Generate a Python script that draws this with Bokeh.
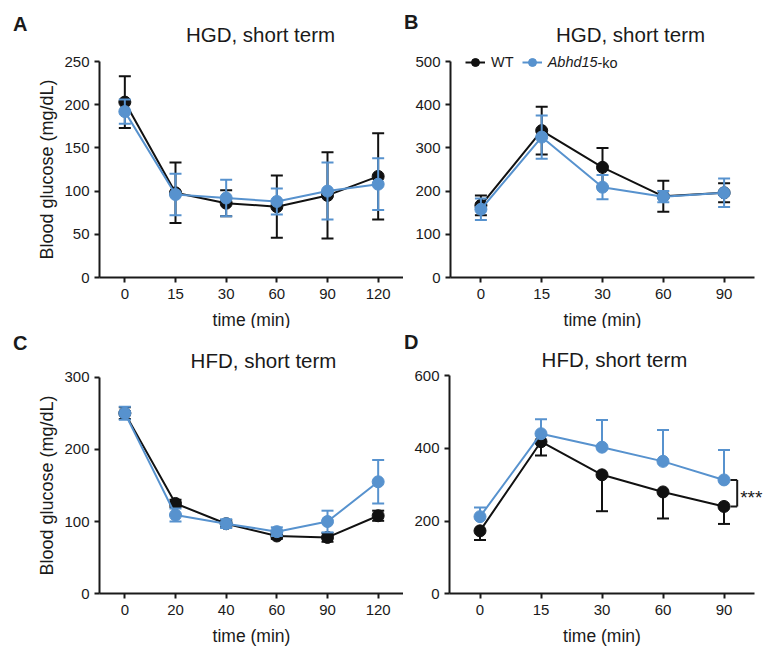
from bokeh.plotting import figure
from bokeh.models import Range1d, FixedTicker, Label, Legend, LegendItem
from bokeh.layouts import column, row
from bokeh.embed import file_html
from bokeh.resources import INLINE

# ---------------- data ----------------
# Panel A: HGD, short term
time_a = ["0", "15", "30", "60", "90", "120"]
wt_a = [203, 98, 86, 82, 95, 117]
wt_a_err = [30, 35, 15, 36, 50, 50]
ko_a = [192, 96, 92, 88, 100, 108]
ko_a_err = [14, 24, 21, 15, 33, 30]

# Panel B: HGD, short term
time_b = ["0", "15", "30", "60", "90"]
wt_b = [167, 340, 255, 188, 196]
wt_b_err = [23, 55, 45, 36, 22]
ko_b = [158, 325, 209, 187, 196]
ko_b_err = [25, 50, 28, 13, 33]

# Panel C: HFD, short term
time_c = ["0", "20", "40", "60", "90", "120"]
wt_c = [250, 125, 97, 80, 78, 108]
wt_c_err = [8, 5, 5, 4, 6, 7]
ko_c = [250, 109, 97, 86, 100, 155]
ko_c_err = [9, 9, 6, 6, 15, 30]

# Panel D: HFD, short term (WT: lower error bars, KO: upper error bars)
time_d = ["0", "15", "30", "60", "90"]
wt_d = [173, 418, 327, 280, 240]
wt_d_err = [25, 38, 100, 73, 48]
ko_d = [212, 440, 403, 364, 313]
ko_d_err = [25, 40, 75, 86, 82]

y_max = [250, 500, 300, 600]
y_step = [50, 100, 100, 200]
titles = ["HGD, short term", "HGD, short term", "HFD, short term", "HFD, short term"]
letters = ["A", "B", "C", "D"]
ylabel = "Blood glucose (mg/dL)"
xlabel = "time (min)"
legend_labels = ["WT", "Abhd15", "-ko"]
signif = "***"

BLACK = "#111111"
BLUE = "#5792CE"
TXT = "#1a1a1a"
FONT = "Liberation Sans"

# ---------------- layout geometry (page pixels) ----------------
# canvas: left, top, width, height ; axes: y-axis x, x-axis right end, top tick y, zero y
GEOM = {
    "A": dict(cl=0, ct=0, cw=403, ch=328, ax=99, xe=403, yt=61, yb=277),
    "B": dict(cl=403, ct=0, cw=361, ch=328, ax=450, xe=754, yt=61, yb=277),
    "C": dict(cl=0, ct=328, cw=403, ch=318, ax=99, xe=403, yt=376.5, yb=593.3),
    "D": dict(cl=403, ct=328, cw=361, ch=318, ax=449, xe=754, yt=375, yb=593.3),
}


def make_fig(key, times, ymax, ystep, show_ylabel):
    g = GEOM[key]
    n = len(times)
    s = (g["xe"] - g["ax"]) / n

    def u(px):
        return (px - g["ax"]) / s - 0.5

    def v(py):
        return (g["yb"] - py) / (g["yb"] - g["yt"]) * ymax

    p = figure(width=g["cw"], height=g["ch"],
               x_range=Range1d(u(g["cl"]), u(g["cl"] + g["cw"])),
               y_range=Range1d(v(g["ct"] + g["ch"]), v(g["ct"])),
               output_backend="svg", toolbar_location=None,
               min_border=0, min_border_left=0, min_border_right=0,
               min_border_top=0, min_border_bottom=0)
    p.outline_line_color = None
    p.xgrid.visible = False
    p.ygrid.visible = False
    p.background_fill_color = "white"
    p.border_fill_color = "white"

    xs = list(range(n))
    p.xaxis.ticker = FixedTicker(ticks=xs)
    p.xaxis.major_label_overrides = {i: t for i, t in zip(xs, times)}
    p.xaxis.fixed_location = 0
    p.xaxis.bounds = (-0.5, n - 0.5)
    p.yaxis.ticker = FixedTicker(ticks=list(range(0, ymax + 1, ystep)))
    p.yaxis.fixed_location = -0.5
    p.yaxis.bounds = (0, ymax)
    for ax in (p.xaxis[0], p.yaxis[0]):
        ax.axis_line_width = 2
        ax.axis_line_color = TXT
        ax.major_tick_line_width = 2
        ax.major_tick_line_color = TXT
        ax.major_tick_out = 5
        ax.major_tick_in = 0
        ax.minor_tick_line_color = None
        ax.major_label_text_font = FONT
        ax.major_label_text_font_size = "15px"
        ax.major_label_text_color = TXT
        ax.axis_label_text_font = FONT
        ax.axis_label_text_font_style = "normal"
        ax.axis_label_text_color = TXT
    p.xaxis.axis_label_text_font_size = "17.5px"
    p.yaxis.axis_label_text_font_size = "18px"
    p.xaxis.major_label_standoff = 6
    p.yaxis.major_label_standoff = 5
    p.xaxis.axis_label = xlabel
    p.xaxis.axis_label_standoff = 8
    if show_ylabel:
        p.yaxis.axis_label = ylabel
        p.yaxis.axis_label_standoff = 4
    return p, xs, u, v


def draw_series(p, xs, mean, err, color, lower=True, upper=True):
    lo = [m - e if lower else m for m, e in zip(mean, err)]
    hi = [m + e if upper else m for m, e in zip(mean, err)]
    p.segment(x0=xs, y0=lo, x1=xs, y1=hi, line_color=color, line_width=2)
    if lower:
        p.scatter(x=xs, y=lo, marker="dash", size=12, line_color=color, line_width=2)
    if upper:
        p.scatter(x=xs, y=hi, marker="dash", size=12, line_color=color, line_width=2)
    ln = p.line(x=xs, y=mean, line_color=color, line_width=2)
    dots = p.scatter(x=xs, y=mean, size=12, fill_color=color, line_color=color)
    return [ln, dots]


def add_text(p, key, text, px, py, size, bold=False, italic=False, align="left"):
    """Place text with its visual (cap) centre at page position (px, py)."""
    g = GEOM[key]
    style = "bold" if bold else ("italic" if italic else "normal")
    p.add_layout(Label(x=px - g["cl"], y=g["ct"] + g["ch"] - py,
                       x_units="screen", y_units="screen", text=text,
                       text_font=FONT, text_font_size=size, text_font_style=style,
                       text_color=TXT, text_align=align, text_baseline="middle"))


pa, xa, ua, va = make_fig("A", time_a, y_max[0], y_step[0], True)
pb, xb, ub, vb = make_fig("B", time_b, y_max[1], y_step[1], False)
pc, xc, uc, vc = make_fig("C", time_c, y_max[2], y_step[2], True)
pd, xd, ud, vd = make_fig("D", time_d, y_max[3], y_step[3], False)

draw_series(pa, xa, wt_a, wt_a_err, BLACK)
draw_series(pa, xa, ko_a, ko_a_err, BLUE)
wt_r = draw_series(pb, xb, wt_b, wt_b_err, BLACK)
ko_r = draw_series(pb, xb, ko_b, ko_b_err, BLUE)
draw_series(pc, xc, wt_c, wt_c_err, BLACK)
draw_series(pc, xc, ko_c, ko_c_err, BLUE)
draw_series(pd, xd, wt_d, wt_d_err, BLACK, lower=True, upper=False)
draw_series(pd, xd, ko_d, ko_d_err, BLUE, lower=False, upper=True)

# titles and panel letters
add_text(pa, "A", titles[0], 260, 33.5, "20.5px", align="center")
add_text(pb, "B", titles[1], 630, 34, "20.5px", align="center")
add_text(pc, "C", titles[2], 263, 359.5, "20.5px", align="center")
add_text(pd, "D", titles[3], 614, 358.5, "20.5px", align="center")
add_text(pa, "A", letters[0], 12.5, 23.5, "20px", bold=True)
add_text(pb, "B", letters[1], 403.5, 21, "20px", bold=True)
add_text(pc, "C", letters[2], 12.5, 342.5, "20px", bold=True)
add_text(pd, "D", letters[3], 403.5, 341.8, "20px", bold=True)

# legend in panel B
gB = GEOM["B"]
leg_y = gB["ct"] + gB["ch"] - 72.3
leg_common = dict(orientation="horizontal", padding=0, margin=0, spacing=0,
                  border_line_alpha=0, background_fill_alpha=0,
                  label_text_font=FONT, label_text_font_size="14.5px",
                  label_text_color=TXT, glyph_width=20, glyph_height=20,
                  label_standoff=6)
leg1 = Legend(items=[LegendItem(label=legend_labels[0], renderers=wt_r)],
              location=(465 - gB["cl"], leg_y), **leg_common)
leg2 = Legend(items=[LegendItem(label=legend_labels[1], renderers=ko_r)],
              location=(521.7 - gB["cl"], leg_y), label_text_font_style="italic",
              **leg_common)
pb.add_layout(leg1)
pb.add_layout(leg2)
add_text(pb, "B", legend_labels[2], 597, 62.3, "14.5px")

# significance bracket in panel D
bx = ud(736.7)
bx0 = ud(730)
pd.segment(x0=[bx], y0=[wt_d[-1]], x1=[bx], y1=[ko_d[-1]], line_color=TXT, line_width=2)
pd.segment(x0=[bx0, bx0], y0=[wt_d[-1], ko_d[-1]], x1=[bx, bx],
           y1=[wt_d[-1], ko_d[-1]], line_color=TXT, line_width=2)
pd.add_layout(Label(x=bx, y=(wt_d[-1] + ko_d[-1]) / 2, text=signif, x_offset=3,
                    y_offset=-4, text_font=FONT, text_font_size="19px",
                    text_color=TXT, text_baseline="middle"))

layout = column(row(pa, pb, spacing=0), row(pc, pd, spacing=0), spacing=0)

with open("out.html", "w") as f:
    f.write(file_html(layout, INLINE))
